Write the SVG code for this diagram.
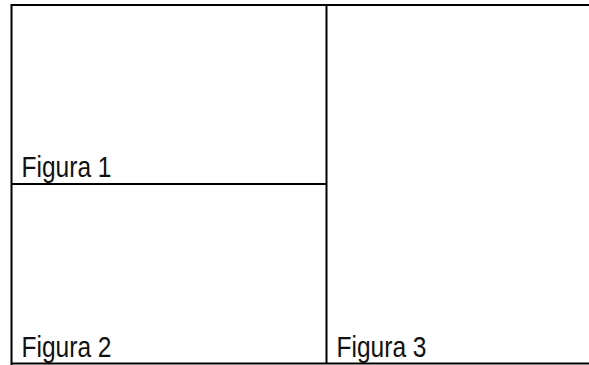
<svg xmlns="http://www.w3.org/2000/svg" width="589" height="365" viewBox="0 0 589 365">
<style>
.ln{stroke:#000;stroke-width:2;fill:none}
.lb{font-family:"Liberation Sans",Arial,sans-serif;font-size:29px;fill:#111}
</style>
<rect width="589" height="365" fill="#fff"/>
<g id="frame">
<path class="ln" d="M11.5,5 H589 M11.5,4 V365 M10.5,363.5 H589 M11.5,184 H326.5 M326.5,5 V363.5"/>
</g>
<g id="figura1"><text class="lb" x="21.5" y="177" textLength="90" lengthAdjust="spacingAndGlyphs">Figura 1</text></g>
<g id="figura2"><text class="lb" x="21.5" y="357" textLength="90" lengthAdjust="spacingAndGlyphs">Figura 2</text></g>
<g id="figura3"><text class="lb" x="336.5" y="357" textLength="90" lengthAdjust="spacingAndGlyphs">Figura 3</text></g>
</svg>
